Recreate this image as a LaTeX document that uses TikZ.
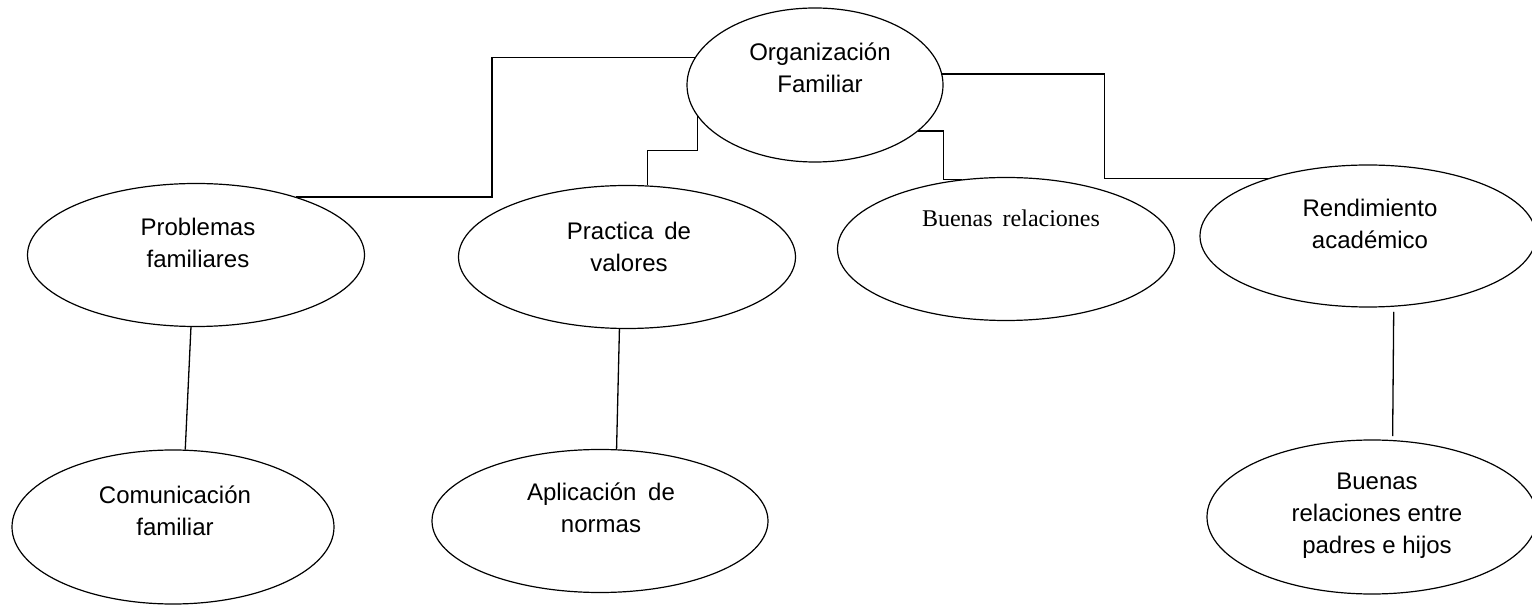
\documentclass[tikz,border=0pt]{standalone}
\usepackage{fontspec}
\setmainfont{Liberation Sans}
\newfontfamily\serifface{Liberation Serif}
\usetikzlibrary{shapes.geometric,calc}
\begin{document}
\begin{tikzpicture}[x=1pt,y=-1pt,
  ell/.style={draw, ellipse, line width=1.2pt, inner sep=0pt},
  lbl/.style={align=center, font=\fontsize{24}{32}\selectfont, inner sep=0pt},
  conn/.style={line width=1.3pt}]
\useasboundingbox (0,0) rectangle (1532,609);
% ellipses
\node[ell, minimum width=256pt, minimum height=154pt] (org) at (815,85) {};
\node[ell, minimum width=337pt, minimum height=143pt] (prob) at (196,255) {};
\node[ell, minimum width=337pt, minimum height=143pt] (prac) at (627,257) {};
\node[ell, minimum width=337pt, minimum height=143pt] (buen) at (1006,249) {};
\node[ell, minimum width=336pt, minimum height=142pt] (rend) at (1368,236) {};
\node[ell, minimum width=322pt, minimum height=154pt] (comu) at (173,527) {};
\node[ell, minimum width=336pt, minimum height=143pt] (apli) at (600,521) {};
\node[ell, minimum width=330pt, minimum height=154pt] (padr) at (1372,517) {};
% texts
\node[lbl] (orgT) at (820,68) {Organización\\Familiar};
\node[lbl] (probT) at (198,243) {Problemas\\familiares};
\node[lbl] (pracT) at (629,247) {Practica\hspace{4pt} de\\valores};
\node[lbl, font=\fontsize{24}{32}\serifface] (buenT) at (1011,218) {Buenas\hspace{4pt} relaciones};
\node[lbl] (rendT) at (1370,224) {Rendimiento\\académico};
\node[lbl] (comuT) at (175,511) {Comunicación\\familiar};
\node[lbl] (apliT) at (601,508) {Aplicación\hspace{5pt} de\\normas};
\node[lbl, font=\fontsize{24}{32}\selectfont] (padrT) at (1377,516) {Buenas\\relaciones entre\\padres e hijos};
% connectors
\draw[conn] (org.167) -- ++(-203,0) |- (prob.30);
\draw[conn] (org.195) -- ++(0,34) -| (prac.74);
\draw[conn] (org.336) -- ++(25,0) |- (buen.122);
\draw[conn] (org.5) -- ++(162,0) |- (rend.150);
\draw[conn] (prob.266) -- (comu.81);
\draw[conn] (prac.264) -- (apli.77);
\draw[conn, shorten <=5pt, shorten >=4pt] (rend.290) -- (padr.75);
\end{tikzpicture}
\end{document}
